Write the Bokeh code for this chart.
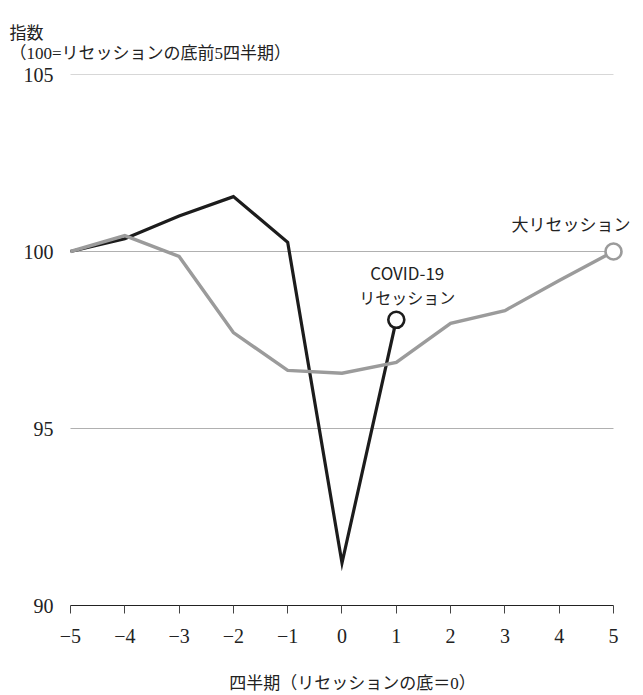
from bokeh.plotting import figure
from bokeh.models import FixedTicker, Range1d, Title
from bokeh.core.properties import value
from bokeh.embed import file_html
from bokeh.resources import INLINE

# ---- data ----
quarters_covid = [-5, -4, -3, -2, -1, 0, 1]
covid_index = [100.0, 100.36, 101.0, 101.55, 100.26, 91.2, 98.07]

quarters_great = [-5, -4, -3, -2, -1, 0, 1, 2, 3, 4, 5]
great_index = [100.0, 100.45, 99.86, 97.71, 96.64, 96.56, 96.87, 97.97, 98.33, 99.18, 100.0]

x_ticks = [-5, -4, -3, -2, -1, 0, 1, 2, 3, 4, 5]
x_tick_labels = ["−5", "−4", "−3", "−2", "−1", "0", "1", "2", "3", "4", "5"]
y_ticks = [90, 95, 100, 105]
y_grid_values = [95, 100, 105]

label_covid = ["COVID-19", "リセッション"]
label_great = "大リセッション"
y_title = ["指数", "（100=リセッションの底前5四半期）"]
x_title = "四半期（リセッションの底＝0）"

SERIF_JP = "Liberation Serif, Noto Sans CJK JP"
SANS_JP = "Noto Sans CJK JP"
TEXT = "#222222"
GRAY = "#9b9b9b"
BLACK = "#1c1c1c"

p = figure(width=643, height=695,
           x_range=Range1d(-5.1657, 5.5525), y_range=Range1d(90, 105),
           output_backend="svg", toolbar_location=None,
           min_border_left=61, min_border_right=0,
           min_border_top=74, min_border_bottom=90)
p.xgrid.visible = False
p.ygrid.visible = False
p.outline_line_color = None

# spacer title at the very top, then the two-line y-axis caption
p.title.text = " "
p.title.text_font_size = "1px"
p.title.standoff = 0
p.add_layout(Title(text="\n".join(y_title), align="left", offset=-52, standoff=22,
                   text_font=SERIF_JP, text_font_style="normal", text_line_height=1.1,
                   text_font_size="17px", text_color=TEXT), "above")

# horizontal reference lines spanning the quarter range
p.segment(x0=[min(x_ticks)] * len(y_grid_values), x1=[max(x_ticks)] * len(y_grid_values),
          y0=y_grid_values, y1=y_grid_values, line_color="#b0b0b0", line_width=1)

# series
p.line(quarters_covid, covid_index, line_color=BLACK, line_width=3.2, line_join="miter")
p.line(quarters_great, great_index, line_color=GRAY, line_width=3.4, line_join="miter")

p.scatter([quarters_covid[-1]], [covid_index[-1]], size=16, fill_color="white",
          line_color=BLACK, line_width=2.6)
p.scatter([quarters_great[-1]], [great_index[-1]], size=16, fill_color="white",
          line_color=GRAY, line_width=2.6)

# series labels
p.text(x=[quarters_covid[-1]], y=[covid_index[-1]], text=[label_covid[0]],
       x_offset=11, y_offset=-47, text_align="center", text_baseline="middle",
       text_font=value(SANS_JP), text_font_size="17px", text_color=TEXT)
p.text(x=[quarters_covid[-1]], y=[covid_index[-1]], text=[label_covid[1]],
       x_offset=11, y_offset=-23, text_align="center", text_baseline="middle",
       text_font=value(SANS_JP), text_font_size="16px", text_color=TEXT)
p.text(x=[quarters_great[-1]], y=[great_index[-1]], text=[label_great],
       x_offset=17, y_offset=-28, text_align="right", text_baseline="middle",
       text_font=value(SANS_JP), text_font_size="17px", text_color=TEXT)

# axes
xa = p.xaxis[0]
xa.ticker = FixedTicker(ticks=x_ticks)
xa.major_label_overrides = {t: s for t, s in zip(x_ticks, x_tick_labels)}
xa.bounds = (min(x_ticks), max(x_ticks))
xa.axis_line_color = "#222222"
xa.major_tick_line_color = "#444444"
xa.major_tick_out = 8
xa.major_tick_in = 0
xa.minor_tick_line_color = None
xa.major_label_text_font = SERIF_JP
xa.major_label_text_font_size = "20px"
xa.major_label_text_color = TEXT
xa.major_label_standoff = 15
xa.axis_label = x_title
xa.axis_label_text_font = SERIF_JP
xa.axis_label_text_font_style = "normal"
xa.axis_label_text_font_size = "17px"
xa.axis_label_text_color = TEXT
xa.axis_label_standoff = 28

ya = p.yaxis[0]
ya.ticker = FixedTicker(ticks=y_ticks)
ya.axis_line_color = None
ya.major_tick_line_color = None
ya.minor_tick_line_color = None
ya.major_label_text_font = SERIF_JP
ya.major_label_text_font_size = "20px"
ya.major_label_text_color = TEXT
ya.major_label_standoff = 2

open("out.html", "w").write(file_html(p, INLINE))
